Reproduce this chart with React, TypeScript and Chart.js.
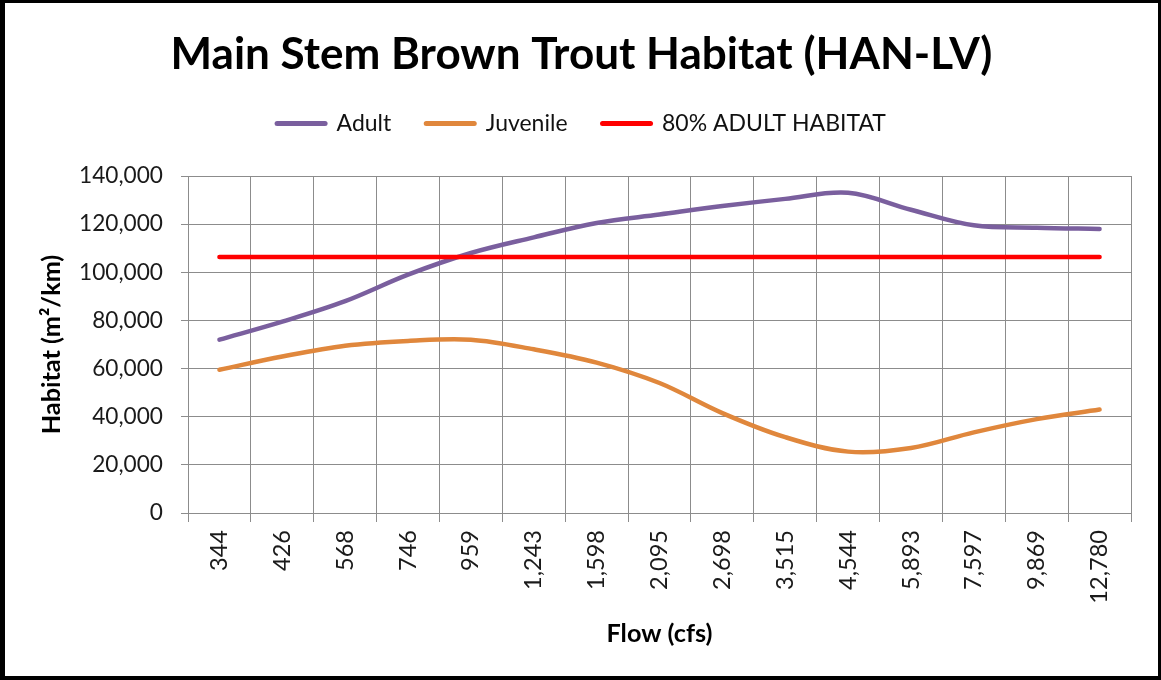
import React, { useEffect, useRef } from 'react';
import { Chart, registerables } from 'chart.js';

Chart.register(...registerables);

// ---- data ----
const chartTitle = 'Main Stem Brown Trout Habitat (HAN-LV)';
const xAxisTitle = 'Flow (cfs)';
const yAxisTitle = 'Habitat (m²/km)';
const seriesNames = ['Adult', 'Juvenile', '80% ADULT HABITAT'];
const flowLabels = ['344', '426', '568', '746', '959', '1,243', '1,598', '2,095', '2,698', '3,515', '4,544', '5,893', '7,597', '9,869', '12,780'];
const adultHabitat = [72000, 79500, 88000, 99000, 108000, 114500, 120500, 124000, 127500, 130500, 133000, 126000, 119500, 118500, 118000];
const juvenileHabitat = [59500, 65000, 69500, 71500, 72000, 68000, 62500, 54000, 41500, 31500, 25500, 27000, 33500, 39000, 43000];
const adult80Habitat = [106400, 106400, 106400, 106400, 106400, 106400, 106400, 106400, 106400, 106400, 106400, 106400, 106400, 106400, 106400];
const yMin = 0;
const yMax = 140000;
const yStep = 20000;

// ---- style ----
const FAMILY = 'Lato';
const W = 1153;
const H = 673;
const SIDE_PAD = 27;
const PLOT_LEFT = 183;
const PLOT_RIGHT = 1126;
const PLOT_TOP = 173;
const PLOT_BOTTOM = 510;
const GRID = '#8C8C8C';
const COLORS = ['#7A5F9E', '#E0873C', '#FF0000'];

function fitFontSize(text: string, weight: number, targetWidth: number): number {
  const ctx = document.createElement('canvas').getContext('2d') as CanvasRenderingContext2D;
  ctx.font = `${weight} 100px ${FAMILY}`;
  return (100 * targetWidth) / ctx.measureText(text).width;
}

export default function App() {
  const ref = useRef<HTMLCanvasElement>(null);

  useEffect(() => {
    const canvas = ref.current;
    if (!canvas) return;

    const T = fitFontSize(chartTitle, 700, 822);
    const L = fitFontSize('80% ADULT HABITAT', 400, 224);
    const tickSize = fitFontSize('140,000', 400, 84);
    const xTickSize = fitFontSize('344', 400, 41);
    const A = fitFontSize(xAxisTitle, 700, 106);

    const legendPad = 35;
    const titlePadTop = 51.5 - T / 2;
    const legendTop = 120.5 - legendPad - L / 2;
    const titlePadBottom = Math.max(legendTop - titlePadTop - T, 0);
    const legendBottom = titlePadTop + T + titlePadBottom + L + legendPad + 10;
    const gap = Math.max(PLOT_TOP - legendBottom, 1);

    const chart = new Chart(canvas, {
      type: 'line',
      data: {
        labels: flowLabels,
        datasets: [
          {
            label: seriesNames[0],
            data: adultHabitat,
            borderColor: COLORS[0],
            backgroundColor: COLORS[0],
            borderWidth: 4.5,
            tension: 0.35,
            pointRadius: 0,
            borderCapStyle: 'round',
            borderJoinStyle: 'round',
            order: 3,
          },
          {
            label: seriesNames[1],
            data: juvenileHabitat,
            borderColor: COLORS[1],
            backgroundColor: COLORS[1],
            borderWidth: 4.5,
            tension: 0.35,
            pointRadius: 0,
            borderCapStyle: 'round',
            borderJoinStyle: 'round',
            order: 2,
          },
          {
            label: seriesNames[2],
            data: adult80Habitat,
            borderColor: COLORS[2],
            backgroundColor: COLORS[2],
            borderWidth: 4.5,
            tension: 0,
            pointRadius: 0,
            borderCapStyle: 'round',
            order: 1,
          },
        ],
      },
      options: {
        responsive: false,
        animation: false,
        devicePixelRatio: 1,
        events: [],
        layout: { padding: { left: SIDE_PAD, right: W - PLOT_RIGHT, top: 0, bottom: 0 } },
        plugins: {
          tooltip: { enabled: false },
          title: {
            display: true,
            text: chartTitle,
            color: '#000',
            font: { family: FAMILY, size: T, weight: 'bold', lineHeight: 1 },
            padding: { top: titlePadTop, bottom: titlePadBottom },
          },
          legend: {
            display: true,
            position: 'top',
            labels: {
              usePointStyle: true,
              pointStyle: 'line',
              pointStyleWidth: 48,
              padding: legendPad,
              color: '#111',
              font: { family: FAMILY, size: L },
              generateLabels: (c: any) =>
                c.data.datasets.map((ds: any, i: number) => ({
                  text: ds.label,
                  fillStyle: ds.borderColor,
                  strokeStyle: ds.borderColor,
                  lineWidth: 5,
                  lineCap: 'round',
                  pointStyle: 'line',
                  hidden: false,
                  fontColor: '#111',
                  datasetIndex: i,
                })),
            },
          },
          subtitle: {
            display: true,
            text: '',
            weight: 1,
            font: { family: FAMILY, size: 1, lineHeight: 1 },
            padding: { top: gap - 1, bottom: 0 },
          },
        },
        scales: {
          x: {
            type: 'category',
            offset: true,
            afterFit: (s: any) => {
              s.height = H - PLOT_BOTTOM;
            },
            grid: { display: true, offset: true, color: GRID, lineWidth: 1, tickLength: 9, drawTicks: true, tickColor: GRID },
            border: { display: true, color: GRID, width: 1 },
            ticks: {
              autoSkip: false,
              maxRotation: 90,
              minRotation: 90,
              padding: 8,
              color: '#1a1a1a',
              font: { family: FAMILY, size: xTickSize },
            },
            title: {
              display: true,
              text: xAxisTitle,
              color: '#000',
              font: { family: FAMILY, size: A, weight: 'bold', lineHeight: 1 },
              padding: { top: 0, bottom: 42 - A / 2 },
            },
          },
          y: {
            type: 'linear',
            min: yMin,
            max: yMax,
            afterFit: (s: any) => {
              s.width = PLOT_LEFT - SIDE_PAD;
            },
            grid: { display: true, color: GRID, lineWidth: 1, tickLength: 7, drawTicks: true, tickColor: GRID },
            border: { display: true, color: GRID, width: 1 },
            ticks: {
              stepSize: yStep,
              padding: 18,
              color: '#1a1a1a',
              font: { family: FAMILY, size: tickSize },
              callback: (v: any) => Number(v).toLocaleString('en-US'),
            },
            title: {
              display: true,
              text: yAxisTitle,
              color: '#000',
              font: { family: FAMILY, size: A, weight: 'bold', lineHeight: 1 },
              padding: { top: Math.max(47 - SIDE_PAD - A / 2, 0), bottom: 0 },
            },
          },
        },
      },
    } as any);

    return () => chart.destroy();
  }, []);

  return (
    <div style={{ position: 'absolute', left: 0, top: 0, width: 1161, height: 680, background: '#000', overflow: 'hidden' }}>
      <div style={{ position: 'absolute', left: 5, top: 3, width: W, height: H, background: '#fff' }}>
        <canvas ref={ref} width={W} height={H} style={{ display: 'block', width: W, height: H }} />
      </div>
    </div>
  );
}
